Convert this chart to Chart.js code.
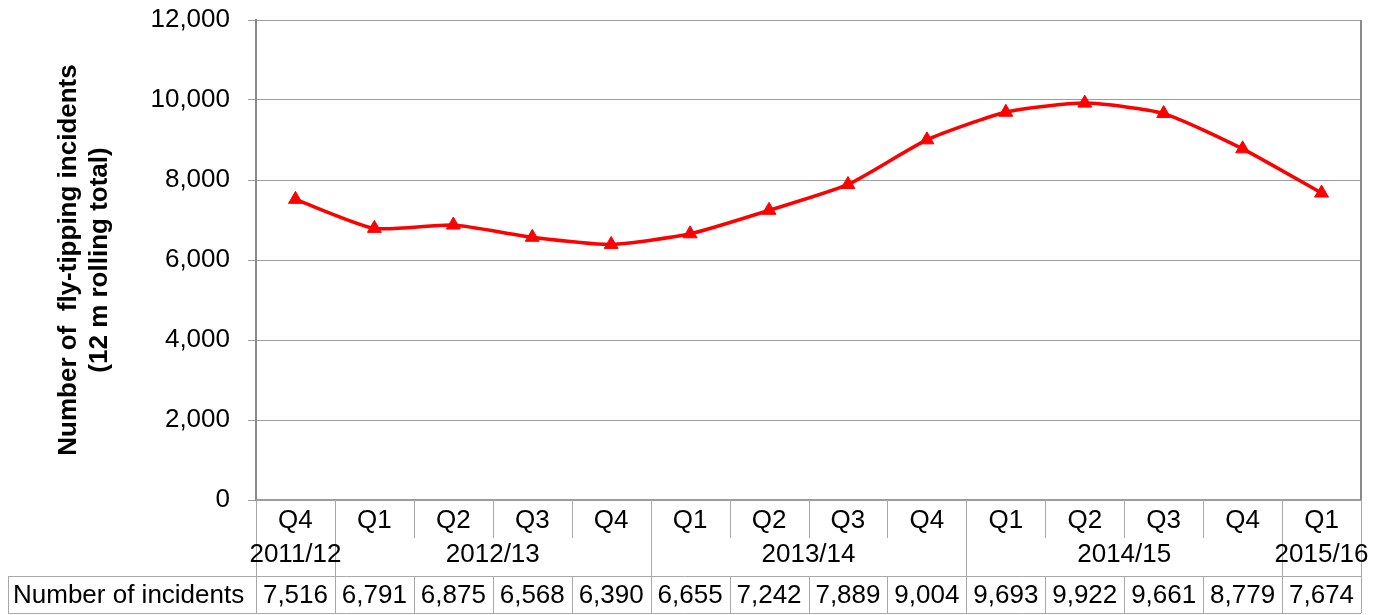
<!DOCTYPE html>
<html>
<head>
<meta charset="utf-8">
<script src="https://cdn.jsdelivr.net/npm/chart.js@4"></script>
<style>
  html, body { margin: 0; padding: 0; background: #fff; }
  #wrap { width: 1390px; height: 615px; }
</style>
</head>
<body>
<div id="wrap"><canvas id="myChart" width="1390" height="615"></canvas></div>
<script>
const quarters = ["Q4", "Q1", "Q2", "Q3", "Q4", "Q1", "Q2", "Q3", "Q4", "Q1", "Q2", "Q3", "Q4", "Q1"];
const years = ["2011/12", "2012/13", "2013/14", "2014/15", "2015/16"];
const quartersPerYear = [1, 4, 4, 4, 1];
const incidents = [7516, 6791, 6875, 6568, 6390, 6655, 7242, 7889, 9004, 9693, 9922, 9661, 8779, 7674];
const rowLabel = "Number of incidents";
const yTitle = ["Number of  fly-tipping incidents", "(12 m rolling total)"];

const FONT = "'Liberation Sans', Arial, sans-serif";
const gridColor = "#9c9c9c";
const tableColor = "#a8a8a8";

const fmt = (v) => v.toLocaleString("en-GB");

// year row, separators and the data table under the x axis
const tablePlugin = {
  id: "quarterTable",
  afterDraw(chart) {
    const { ctx, chartArea } = chart;
    const x = chart.scales.x;
    const n = quarters.length;
    const edge = (i) => x.getPixelForValue(i - 0.5);
    const axisY = chartArea.bottom;
    const shortY = axisY + 38;
    const tableTop = axisY + 76;
    const tableBottom = axisY + 113;
    const tableLeft = 8;

    ctx.save();

    // right border of the plot area
    ctx.strokeStyle = "#8a8a8a";
    ctx.lineWidth = 2;
    ctx.beginPath();
    ctx.moveTo(chartArea.right, chartArea.top);
    ctx.lineTo(chartArea.right, chartArea.bottom);
    ctx.stroke();

    // which edges are year boundaries
    const yearEdges = [0];
    quartersPerYear.forEach((c) => yearEdges.push(yearEdges[yearEdges.length - 1] + c));

    ctx.strokeStyle = tableColor;
    ctx.lineWidth = 1;
    ctx.beginPath();
    for (let i = 0; i <= n; i++) {
      const px = Math.round(edge(i)) + 0.5;
      ctx.moveTo(px, axisY);
      ctx.lineTo(px, yearEdges.includes(i) ? tableBottom : shortY);
      if (!yearEdges.includes(i)) {
        ctx.moveTo(px, tableTop);
        ctx.lineTo(px, tableBottom);
      }
    }
    ctx.moveTo(tableLeft + 0.5, tableTop);
    ctx.lineTo(tableLeft + 0.5, tableBottom);
    ctx.moveTo(tableLeft, tableTop + 0.5);
    ctx.lineTo(edge(n), tableTop + 0.5);
    ctx.moveTo(tableLeft, tableBottom + 0.5);
    ctx.lineTo(edge(n), tableBottom + 0.5);
    ctx.stroke();

    ctx.fillStyle = "#000";
    ctx.font = "26px " + FONT;
    ctx.textBaseline = "middle";

    // year labels centred over their quarters
    ctx.textAlign = "center";
    years.forEach((y, k) => {
      const mid = (edge(yearEdges[k]) + edge(yearEdges[k + 1])) / 2;
      ctx.fillText(y, mid, axisY + 55);
    });

    // data row
    const rowY = (tableTop + tableBottom) / 2 + 1;
    incidents.forEach((v, i) => {
      ctx.fillText(fmt(v), x.getPixelForValue(i), rowY);
    });
    ctx.textAlign = "left";
    ctx.fillText(rowLabel, tableLeft + 5, rowY);

    ctx.restore();
  },
};

new Chart(document.getElementById("myChart"), {
  type: "line",
  data: {
    labels: quarters,
    datasets: [
      {
        data: incidents,
        borderColor: "#ff0000",
        backgroundColor: "#ff0000",
        borderWidth: 3.5,
        tension: 0.2,
        pointStyle: "triangle",
        pointRadius: 8,
        pointBorderWidth: 1,
      },
    ],
  },
  options: {
    responsive: false,
    animation: false,
    layout: {
      padding: { top: 20, right: 29, left: 0, bottom: 0 },
    },
    plugins: {
      legend: { display: false },
      tooltip: { enabled: false },
    },
    scales: {
      x: {
        offset: true,
        afterFit: (scale) => {
          scale.height = 115;
        },
        grid: { display: false, drawTicks: false, offset: true },
        border: { display: true, color: gridColor, width: 1.5 },
        ticks: {
          color: "#000",
          font: { family: FONT, size: 26 },
          padding: 5,
          maxRotation: 0,
          autoSkip: false,
        },
      },
      y: {
        min: 0,
        max: 12000,
        afterFit: (scale) => {
          scale.width = 256;
          // the label padding would otherwise push the plot top down
          scale.paddingTop = 0;
          scale.paddingBottom = 0;
        },
        title: {
          display: true,
          text: yTitle,
          color: "#000",
          font: { family: FONT, size: 26, weight: "bold", lineHeight: 1.2 },
          padding: { top: 53, bottom: 0 },
        },
        grid: { color: gridColor, tickLength: 8, lineWidth: 1 },
        border: { display: true, color: "#8a8a8a", width: 2 },
        ticks: {
          stepSize: 2000,
          color: "#000",
          font: { family: FONT, size: 26 },
          padding: 18,
          callback: (v) => fmt(v),
        },
      },
    },
  },
  plugins: [tablePlugin],
});
</script>
</body>
</html>
